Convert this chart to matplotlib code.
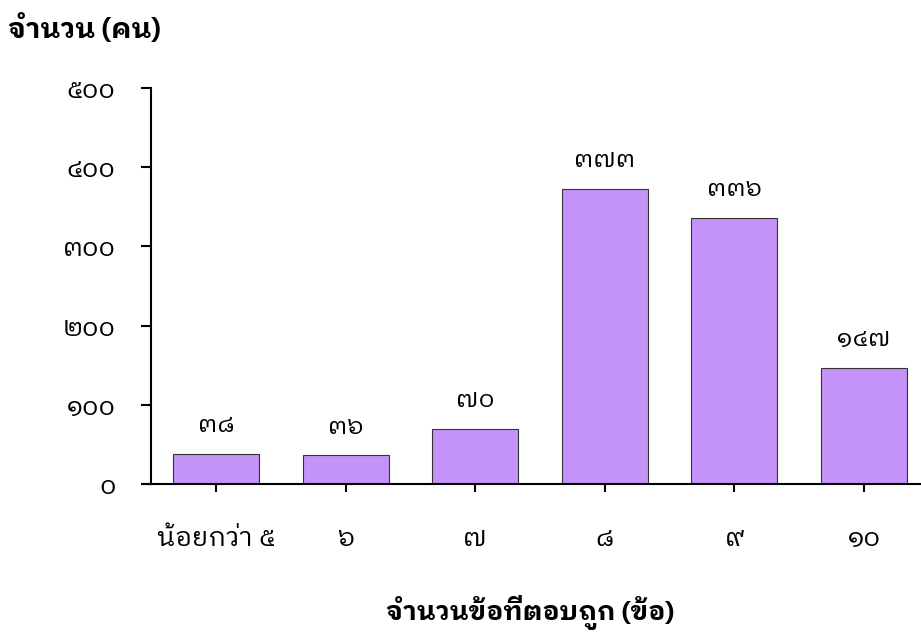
import matplotlib
matplotlib.use("Agg")
import matplotlib.pyplot as plt

THAI = ["IBM Plex Sans Thai Looped", "Noto Sans Thai Looped", "DejaVu Sans"]
plt.rcParams["font.family"] = THAI

categories = ["น้อยกว่า ๕", "๖", "๗", "๘", "๙", "๑๐"]
counts = [38, 36, 70, 373, 336, 147]
yticks = [0, 100, 200, 300, 400, 500]

THAI_DIGITS = str.maketrans("0123456789", "๐๑๒๓๔๕๖๗๘๙")


def thai_num(v):
    return str(v).translate(THAI_DIGITS)


fig = plt.figure(figsize=(9.21, 6.38), dpi=100)
ax = fig.add_axes([143 / 921, 1 - 484 / 638, 778 / 921, 396 / 638])

x = list(range(len(categories)))
ax.bar(x, counts, width=0.664, color="#c493f8", edgecolor="#333333", linewidth=0.8, zorder=2)

for xi, v in zip(x, counts):
    ax.annotate(thai_num(v), (xi, v), xytext=(0, 12), textcoords="offset points",
                ha="center", va="bottom", fontsize=18)

ax.set_xlim(-0.563, 5.44)
ax.set_ylim(0, 500)

ax.spines["top"].set_visible(False)
ax.spines["right"].set_visible(False)
ax.spines["left"].set_position(("data", -0.5))
ax.spines["left"].set_bounds(0, 500)
ax.spines["left"].set_linewidth(1.5)
ax.spines["bottom"].set_linewidth(1.5)

ax.set_yticks(yticks)
ax.set_yticklabels([thai_num(v) for v in yticks])
ax.set_xticks(x)
ax.set_xticklabels(categories)
ax.tick_params(axis="y", length=7.5, width=1.5, pad=18, labelsize=18.5)
ax.tick_params(axis="x", length=6, width=1.5, pad=24, labelsize=19)

fig.text(8 / 921, 1 - 29 / 638, "จำนวน (คน)", fontsize=20, fontweight="bold",
         ha="left", va="center")
fig.text(530 / 921, 1 - 612 / 638, "จำนวนข้อที่ตอบถูก (ข้อ)", fontsize=19,
         fontweight="bold", ha="center", va="center")

fig.savefig("out.png", dpi=100)
